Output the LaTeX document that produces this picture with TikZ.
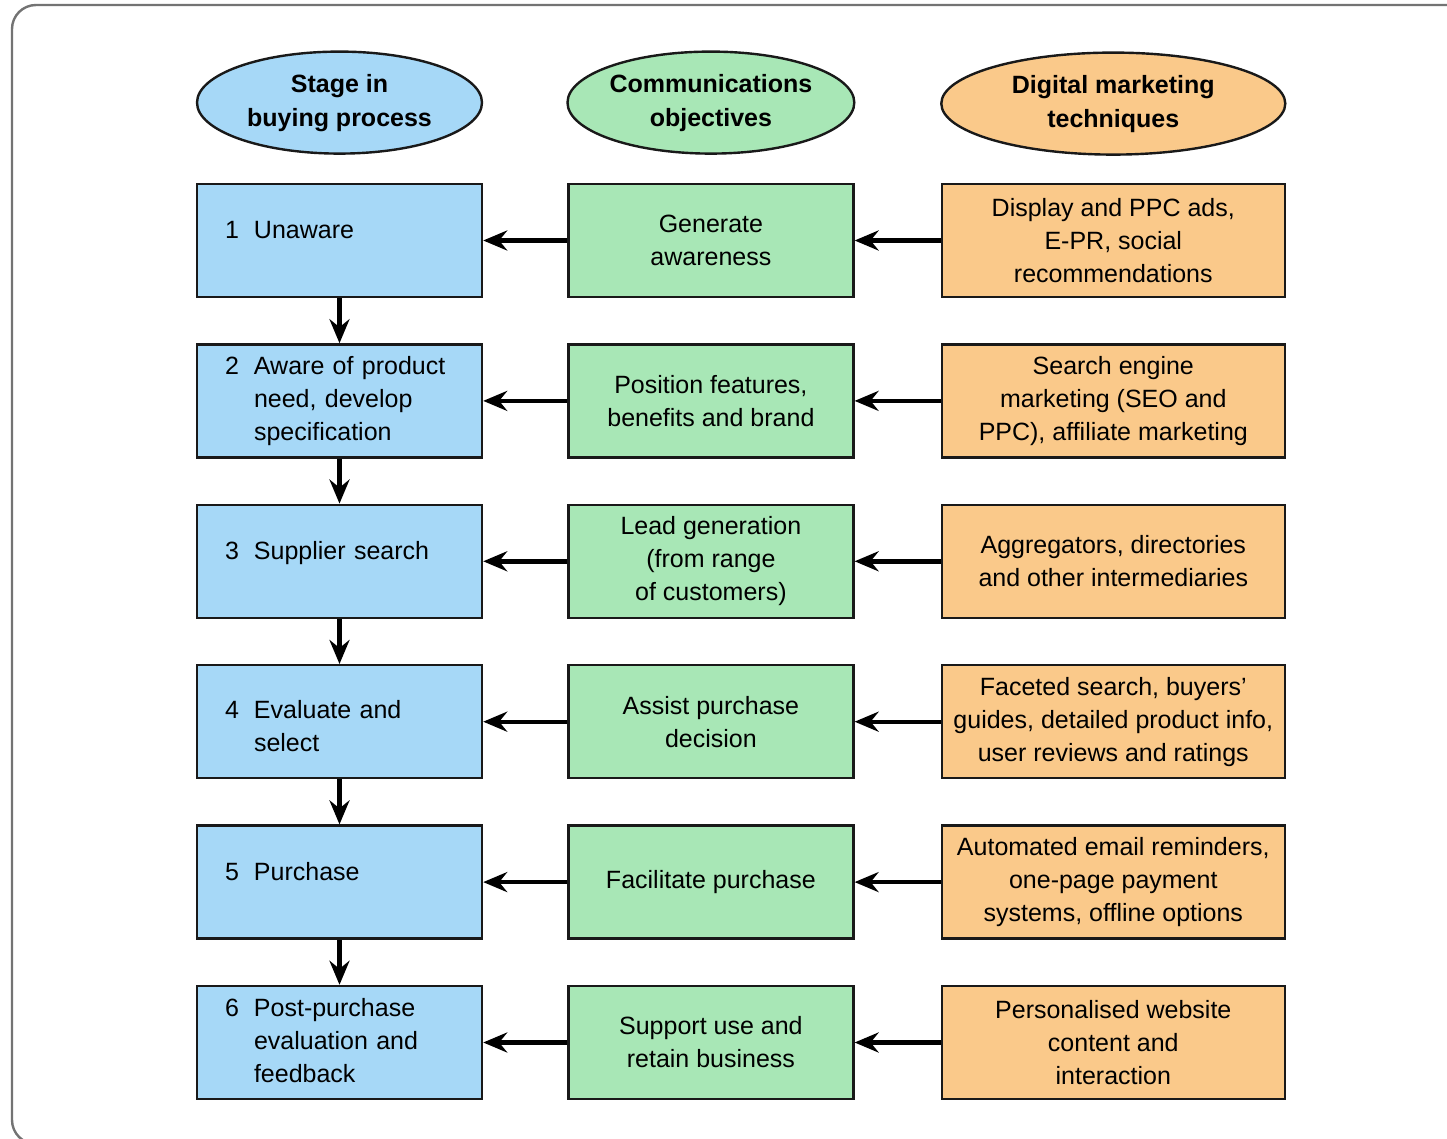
\documentclass[tikz,border=0pt]{standalone}
\usepackage{fontspec}
\setmainfont{Liberation Sans}
\usetikzlibrary{arrows.meta, positioning, shapes.geometric}
\definecolor{stageblue}{RGB}{166,216,247}
\definecolor{objgreen}{RGB}{168,231,182}
\definecolor{techorange}{RGB}{250,201,138}
% number with a hanging block of lines, optionally lifted
\newcommand{\stagetext}[3][0pt]{%
  \raisebox{#1}[\height][\depth]{%
  \begin{tabular}{@{}p{14.5pt}@{}l@{}}#2 & \begin{tabular}[t]{@{}l@{}}#3\end{tabular}\end{tabular}}}
\tikzset{
  box/.style={
    draw=black!90,
    line width=1.2pt,
    rectangle,
    minimum height=56.5pt,
    font=\fontsize{12.5}{16.5}\selectfont,
  },
  stagebox/.style={
    box,
    fill=stageblue,
    text width=114.5pt,
    inner xsep=14pt,
    align=left
  },
  objbox/.style={
    box,
    fill=objgreen,
    minimum width=142.5pt,
    align=center
  },
  techbox/.style={
    box,
    fill=techorange,
    minimum width=171.5pt,
    align=center
  },
  head/.style={
    ellipse,
    draw=black!90,
    line width=1.2pt,
    minimum height=51pt,
    inner sep=0pt,
    align=center,
    font=\fontsize{12.5}{17}\selectfont\bfseries
  },
  arrow/.style={
    -{Stealth[length=12pt, width=10pt, inset=4pt]},
    line width=2.2pt
  }
}

\begin{document}
\begin{tikzpicture}
  \useasboundingbox (0,0) rectangle (723.5pt,-569.5pt);
  % frame
  \draw[rounded corners=12pt, draw=black!55, line width=1.2pt] (6pt,-2.5pt) rectangle (740pt,-572pt);

  % Stages
  \node[stagebox] (s1) at (169.75pt,-120.25pt) {\stagetext[4.25pt]{1}{Unaware}};
  \node[stagebox, below=22.5pt of s1] (s2) {\stagetext{2}{Aware of product\\need, develop\\specification}};
  \node[stagebox, below=22.5pt of s2] (s3) {\stagetext[4.25pt]{3}{Supplier search}};
  \node[stagebox, below=22.5pt of s3] (s4) {\stagetext[-3.5pt]{4}{Evaluate and\\select}};
  \node[stagebox, below=22.5pt of s4] (s5) {\stagetext[4.25pt]{5}{Purchase}};
  \node[stagebox, below=22.5pt of s5] (s6) {\stagetext{6}{Post-purchase\\evaluation and\\feedback}};

  % Objectives
  \node[objbox, right=42pt of s1] (o1) {Generate\\awareness};
  \node[objbox, right=42pt of s2] (o2) {Position features,\\benefits and brand};
  \node[objbox, right=42pt of s3] (o3) {Lead generation\\(from range\\of customers)};
  \node[objbox, right=42pt of s4] (o4) {Assist purchase\\decision};
  \node[objbox, right=42pt of s5] (o5) {Facilitate purchase};
  \node[objbox, right=42pt of s6] (o6) {Support use and\\retain business};

  % Techniques
  \node[techbox, right=43pt of o1] (t1) {Display and PPC ads,\\E-PR, social\\recommendations};
  \node[techbox, right=43pt of o2] (t2) {Search engine\\marketing (SEO and\\PPC), affiliate marketing};
  \node[techbox, right=43pt of o3] (t3) {Aggregators, directories\\and other intermediaries};
  \node[techbox, right=43pt of o4] (t4) {Faceted search, buyers’\\guides, detailed product info,\\user reviews and ratings};
  \node[techbox, right=43pt of o5] (t5) {Automated email reminders,\\one-page payment\\systems, offline options};
  \node[techbox, right=43pt of o6] (t6) {Personalised website\\content and\\interaction};

  % Headers
  \node[head, fill=stageblue, minimum width=142.5pt, above=14pt of s1] (hs) {Stage in\\buying process};
  \node[head, fill=objgreen, minimum width=142.5pt, above=14pt of o1] (ho) {Communications\\objectives};
  \node[head, fill=techorange, minimum width=172pt, above=13.5pt of t1] (ht) {Digital marketing\\techniques};

  % stage to stage
  \draw[arrow] (s1) -- (s2);
  \draw[arrow] (s2) -- (s3);
  \draw[arrow] (s3) -- (s4);
  \draw[arrow] (s4) -- (s5);
  \draw[arrow] (s5) -- (s6);

  % techniques to objectives to stages
  \draw[arrow] (t1) -- (o1);
  \draw[arrow] (o1) -- (s1);
  \draw[arrow] (t2) -- (o2);
  \draw[arrow] (o2) -- (s2);
  \draw[arrow] (t3) -- (o3);
  \draw[arrow] (o3) -- (s3);
  \draw[arrow] (t4) -- (o4);
  \draw[arrow] (o4) -- (s4);
  \draw[arrow] (t5) -- (o5);
  \draw[arrow] (o5) -- (s5);
  \draw[arrow] (t6) -- (o6);
  \draw[arrow] (o6) -- (s6);
\end{tikzpicture}
\end{document}
